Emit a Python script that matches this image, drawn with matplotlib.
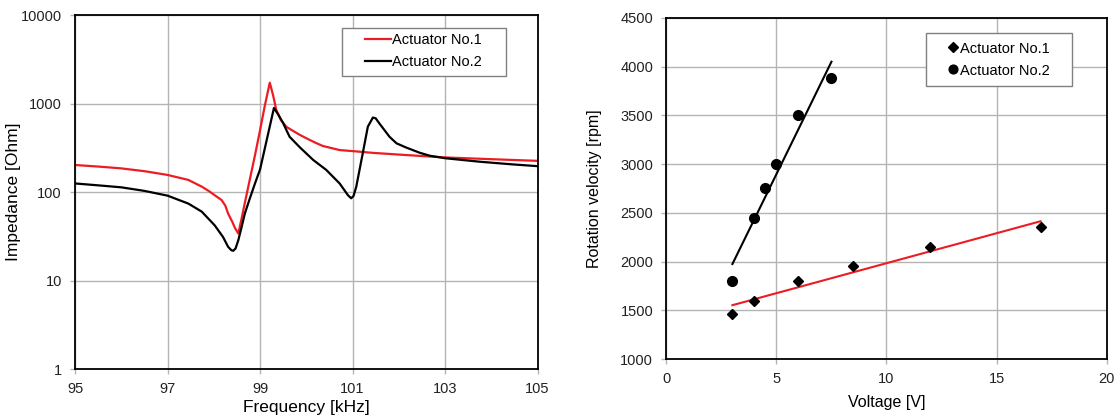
import matplotlib
matplotlib.use("Agg")
import matplotlib.pyplot as plt
from matplotlib.patches import Rectangle
import numpy as np

plt.rcParams['font.family'] = ['Liberation Sans', 'DejaVu Sans']

# impedance spectra
freq_1 = [95, 95.5, 96, 96.5, 97, 97.45, 97.74, 97.9, 98.02, 98.17, 98.25, 98.31, 98.4,
          98.46, 98.53, 98.6, 98.67, 98.78, 98.89, 99.0, 99.1, 99.21, 99.28, 99.35, 99.45,
          99.57, 99.71, 99.85, 100.0, 100.2, 100.36, 100.72, 101.0, 101.44, 102.0, 102.45,
          103, 104, 105]
imp_1 = [202, 194, 185, 172, 156, 137, 115, 102, 92, 81, 70, 57, 46,
         39, 34, 50, 75, 140, 260, 500, 930, 1720, 1250, 850, 650,
         545, 492, 445, 405, 360, 331, 298, 290, 277, 265, 256,
         246, 235, 225]

freq_2 = [95, 95.5, 96, 96.5, 97, 97.45, 97.74, 98.02, 98.2, 98.31, 98.38, 98.42, 98.47,
          98.53, 98.6, 98.67, 98.78, 98.89, 99.0, 99.15, 99.3, 99.4, 99.5, 99.57, 99.64,
          99.86, 100.15, 100.43, 100.72, 100.9, 100.97, 101.02, 101.08, 101.22, 101.33,
          101.44, 101.5, 101.58, 101.8, 101.95, 102.16, 102.45, 102.67, 103.0, 103.75,
          104.47, 105]
imp_2 = [125, 119, 113, 103, 91, 74, 60, 42, 31, 24, 22, 21.7, 23,
         28.6, 40, 57, 85, 125, 180, 400, 890, 740, 600, 500, 420,
         320, 230, 178, 125, 92, 85, 90, 115, 274, 548,
         695, 680, 595, 420, 355, 318, 278, 257, 241, 220,
         205, 196]

# rotation velocity vs voltage
volt_1 = [3, 4, 6, 8.5, 12, 17]
rpm_1 = [1465, 1600, 1800, 1950, 2150, 2350]
volt_2 = [3, 4, 4.5, 5, 6, 7.5]
rpm_2 = [1805, 2450, 2750, 3000, 3500, 3880]

red = '#ec1c24'
grid = '#b4b4b4'

fig = plt.figure(figsize=(11.2, 4.17), dpi=100)
ax1 = fig.add_axes([0.067, 0.115, 0.413, 0.849])
ax2 = fig.add_axes([0.595, 0.139, 0.393, 0.818])

# left: impedance
ax1.plot(freq_1, imp_1, color=red, lw=1.6, label='Actuator No.1')
ax1.plot(freq_2, imp_2, color='black', lw=1.6, label='Actuator No.2')
ax1.set_yscale('log')
ax1.set_xlim(95, 105)
ax1.set_ylim(1, 10000)
ax1.set_xticks([95, 97, 99, 101, 103, 105])
ax1.set_yticks([1, 10, 100, 1000, 10000])
ax1.set_yticklabels(['1', '10', '100', '1000', '10000'])
ax1.minorticks_off()
ax1.set_xlabel('Frequency [kHz]', fontsize=12.5, labelpad=3)
ax1.set_ylabel('Impedance [Ohm]', fontsize=12.5, labelpad=0)
ax1.add_patch(Rectangle((0.577, 0.828), 0.354, 0.135, transform=ax1.transAxes,
                        facecolor='white', edgecolor='#808080', lw=1.0, zorder=4))
ax1.legend(loc='center', bbox_to_anchor=(0.754, 0.898), fontsize=10.5, frameon=False,
           borderpad=0, borderaxespad=0, handlelength=1.75, handletextpad=0.1,
           labelspacing=0.5)

# right: rotation velocity
ax2.plot(volt_1, rpm_1, 'D', color='black', ms=5.5, label='Actuator No.1', zorder=3)
ax2.plot(volt_2, rpm_2, 'o', color='black', ms=7, label='Actuator No.2', zorder=3)
for v, r, c in [(volt_1, rpm_1, red), (volt_2, rpm_2, 'black')]:
    k, b = np.polyfit(v, r, 1)
    xs = np.array([min(v), max(v)])
    ax2.plot(xs, k * xs + b, color=c, lw=1.5, zorder=2)
ax2.set_xlim(0, 20)
ax2.set_ylim(1000, 4500)
ax2.set_xticks([0, 5, 10, 15, 20])
ax2.set_yticks(range(1000, 4501, 500))
ax2.set_xlabel('Voltage [V]', fontsize=11.5, labelpad=6)
ax2.set_ylabel('Rotation velocity [rpm]', fontsize=11.5, labelpad=13)
ax2.add_patch(Rectangle((0.590, 0.801), 0.331, 0.155, transform=ax2.transAxes,
                        facecolor='white', edgecolor='#808080', lw=1.0, zorder=4))
ax2.legend(loc='center', bbox_to_anchor=(0.755, 0.878), fontsize=10.5, frameon=False,
           borderpad=0, borderaxespad=0, handlelength=0.8, handletextpad=0.1,
           labelspacing=0.55, markerscale=0.9)

for ax in (ax1, ax2):
    ax.grid(True, color=grid, lw=1.0)
    ax.set_axisbelow(True)
    ax.tick_params(length=3.5, width=1.0, color=grid, labelsize=10.5, pad=6,
                   labelcolor='#222222')
    for s in ax.spines.values():
        s.set_linewidth(1.3)
        s.set_color('black')

fig.savefig('out.png', dpi=100)
